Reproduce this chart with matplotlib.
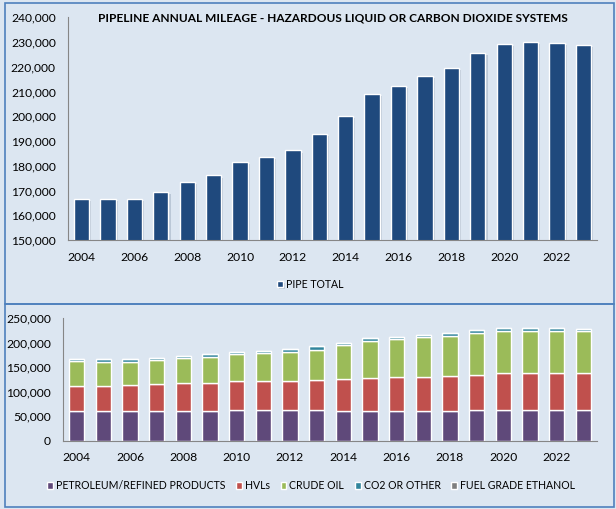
import matplotlib
matplotlib.use("Agg")
import matplotlib.pyplot as plt
from matplotlib.patches import Rectangle
from matplotlib.ticker import FuncFormatter
import matplotlib.patheffects as pe

years = list(range(2004, 2024))
pipe_total = [166700, 166700, 166700, 169600, 173600, 176100, 181700, 183400, 186200, 192700,
              200000, 208900, 212100, 216200, 219400, 225500, 229200, 230000, 229600, 228800]

petroleum = [61000, 61000, 61000, 61000, 61000, 61000, 63000, 63000, 63000, 63000,
             61000, 61000, 61000, 61000, 61000, 63000, 63000, 63000, 63000, 63000]
hvls = [50600, 50600, 53400, 55400, 57500, 57500, 59600, 59600, 59600, 61700,
        65700, 67800, 69800, 69800, 71900, 71900, 76000, 76000, 76000, 76000]
crude = [51400, 49400, 46600, 48700, 50700, 52700, 53400, 55500, 57500, 60900,
         67800, 73900, 76000, 80200, 80100, 84300, 84300, 84300, 84300, 84300]
co2_other = [3700, 5700, 5700, 4500, 4400, 4900, 5700, 5300, 6100, 7100,
             5500, 6200, 5300, 5200, 6400, 6300, 5900, 6700, 6300, 5500]
ethanol = [0, 0, 0, 0, 0, 0, 0, 0, 0, 0, 0, 0, 0, 0, 0, 0, 20, 20, 20, 20]

series_names = ["PETROLEUM/REFINED PRODUCTS", "HVLs", "CRUDE OIL", "CO2 OR OTHER", "FUEL GRADE ETHANOL"]
series_vals = [petroleum, hvls, crude, co2_other, ethanol]
series_cols = ["#5F497A", "#C0504D", "#9BBB59", "#31859C", "#7F7F7F"]

title = "PIPELINE ANNUAL MILEAGE - HAZARDOUS LIQUID OR CARBON DIOXIDE SYSTEMS"
xtick_labels = [str(y) for y in years[::2]]

plt.rcParams['font.family'] = ['Lato', 'DejaVu Sans']
BG = "#DCE6F1"
W, H = 616, 509
fig = plt.figure(figsize=(W / 100, H / 100), dpi=100, facecolor=BG)

def fx(px):
    return px / W

def fy(py):
    return 1 - py / H

# panel borders
for (x0, y0, x1, y1) in [(4.7, 3, 614, 304.3), (4.7, 304.3, 614, 507.3)]:
    fig.patches.append(Rectangle((fx(x0), fy(y1)), fx(x1) - fx(x0), fy(y0) - fy(y1),
                                 transform=fig.transFigure, fill=False,
                                 edgecolor="#4F81BD", linewidth=1.2))

shadow = [pe.SimplePatchShadow(offset=(1.5, -1.5), shadow_rgbFace="#8090A8", alpha=0.35), pe.Normal()]
fmt = FuncFormatter(lambda v, p: f"{int(v):,}")
FS = 8.7
LFS = 7.6
idx = list(range(len(years)))

# top chart
ax1 = fig.add_axes([fx(68.3), fy(240), fx(596.7) - fx(68.3), fy(17.3) - fy(240)])
ax1.set_facecolor(BG)
bars = ax1.bar(idx, pipe_total, width=0.58, color="#1F497D", edgecolor="white", linewidth=1.0,
               label="PIPE TOTAL")
for b in bars:
    b.set_path_effects(shadow)
ax1.set_ylim(150000, 240000)
ax1.set_xlim(-0.5, len(years) - 0.5)
ax1.set_yticks(range(150000, 240001, 10000))
ax1.yaxis.set_major_formatter(fmt)
ax1.set_xticks(idx[::2])
ax1.set_xticklabels(xtick_labels)
ax1.tick_params(axis='both', length=0, labelsize=FS, colors="black")
ax1.tick_params(axis='y', pad=9)
ax1.tick_params(axis='x', pad=8.5)
for s in ["top", "right"]:
    ax1.spines[s].set_visible(False)
for s in ["left", "bottom"]:
    ax1.spines[s].set_color("#868686")
fig.text(fx(333), fy(17.7), title, ha="center", va="center", fontsize=8.6, fontweight="bold")
fig.legend(handles=[bars], labels=["PIPE TOTAL"], loc="center", bbox_to_anchor=(fx(310.3), fy(284.3)),
           frameon=False, fontsize=LFS, handlelength=0.55, handleheight=0.55, handletextpad=0.3,
           borderpad=0, borderaxespad=0)

# bottom chart
ax2 = fig.add_axes([fx(63.3), fy(440.5), fx(596.7) - fx(63.3), fy(318.3) - fy(440.5)])
ax2.set_facecolor(BG)
bottom = [0] * len(years)
handles = []
for name, vals, col in zip(series_names, series_vals, series_cols):
    bc = ax2.bar(idx, vals, bottom=bottom, width=0.58, color=col, edgecolor="white", linewidth=1.0, label=name)
    handles.append(bc)
    bottom = [a + b for a, b in zip(bottom, vals)]
ax2.set_ylim(0, 250000)
ax2.set_xlim(-0.5, len(years) - 0.5)
ax2.set_yticks(range(0, 250001, 50000))
ax2.yaxis.set_major_formatter(fmt)
ax2.set_xticks(idx[::2])
ax2.set_xticklabels(xtick_labels)
ax2.tick_params(axis='both', length=0, labelsize=FS, colors="black")
ax2.tick_params(axis='y', pad=9)
ax2.tick_params(axis='x', pad=8)
for s in ["top", "right"]:
    ax2.spines[s].set_visible(False)
for s in ["left", "bottom"]:
    ax2.spines[s].set_color("#868686")
fig.legend(handles=handles, labels=series_names, loc="center", bbox_to_anchor=(fx(311.2), fy(485.7)),
           frameon=False, fontsize=LFS, ncol=5, handlelength=0.55, handleheight=0.55, handletextpad=0.3,
           columnspacing=1.0, borderpad=0, borderaxespad=0)

fig.savefig("out.png", dpi=100, facecolor=BG)
